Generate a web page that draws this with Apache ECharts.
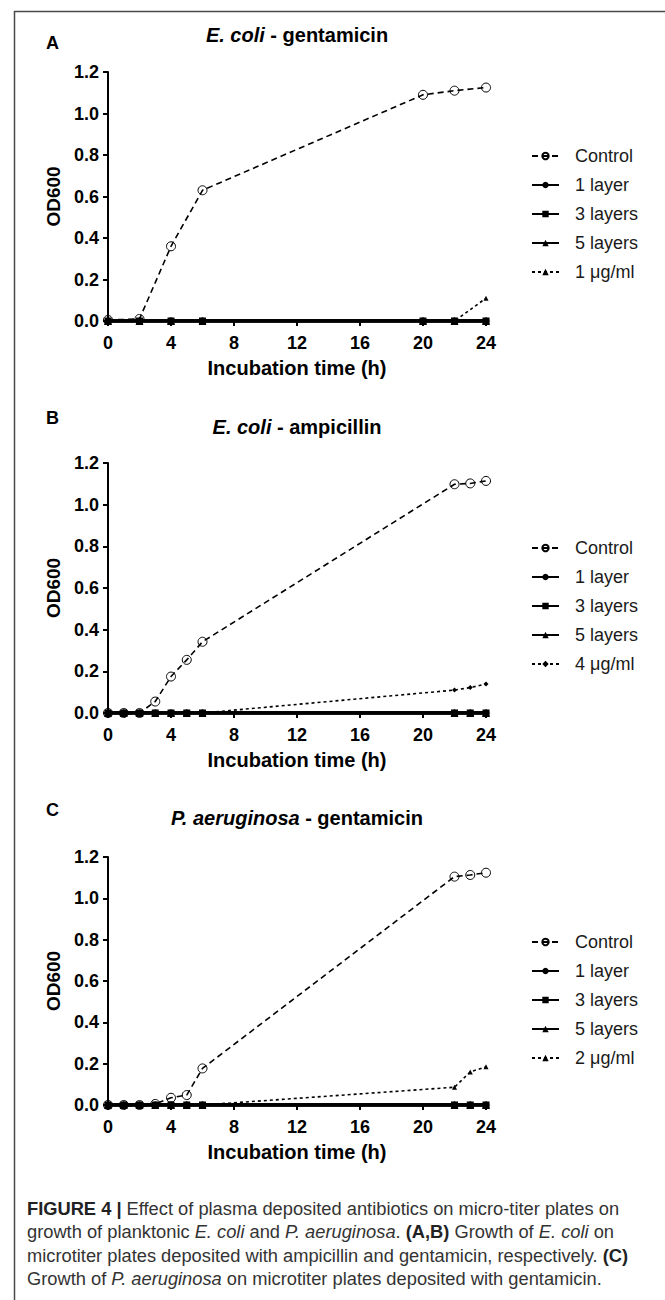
<!DOCTYPE html>
<html>
<head>
<meta charset="utf-8">
<script src="https://cdn.jsdelivr.net/npm/echarts@6/dist/echarts.min.js"></script>
<style>
html,body{margin:0;padding:0;background:#fff;}
#chart{width:665px;height:1300px;}
</style>
</head>
<body>
<div id="chart"></div>
<script>
// ---- Data ----
const panelTitles = ['E. coli|gentamicin', 'E. coli|ampicillin', 'P. aeruginosa|gentamicin'];
const panelLetters = ['A', 'B', 'C'];
const seriesNames = ['Control', '1 layer', '3 layers', '5 layers'];
const doseNames = ['1 μg/ml', '4 μg/ml', '2 μg/ml'];

const xA = [0, 2, 4, 6, 20, 22, 24];
const controlA = [0.005, 0.01, 0.36, 0.63, 1.09, 1.11, 1.125];
const layer1A = [0, 0, 0, 0, 0, 0, 0];
const layer3A = [0, 0, 0, 0, 0, 0, 0];
const layer5A = [0, 0, 0, 0, 0, 0, 0];
const doseA = [0, 0, 0, 0, 0, 0, 0.11];

const xB = [0, 1, 2, 3, 4, 5, 6, 22, 23, 24];
const controlB = [0, 0, 0, 0.055, 0.175, 0.255, 0.342, 1.098, 1.102, 1.114];
const layer1B = [0, 0, 0, 0, 0, 0, 0, 0, 0, 0];
const layer3B = [0, 0, 0, 0, 0, 0, 0, 0, 0, 0];
const layer5B = [0, 0, 0, 0, 0, 0, 0, 0, 0, 0];
const doseB = [0, 0, 0, 0, 0, 0, 0, 0.11, 0.122, 0.139];

const xC = [0, 1, 2, 3, 4, 5, 6, 22, 23, 24];
const controlC = [0, 0, 0, 0.005, 0.035, 0.048, 0.177, 1.105, 1.113, 1.124];
const layer1C = [0, 0, 0, 0, 0, 0, 0, 0, 0, 0];
const layer3C = [0, 0, 0, 0, 0, 0, 0, 0, 0, 0];
const layer5C = [0, 0, 0, 0, 0, 0, 0, 0, 0, 0];
const doseC = [0, 0, 0, 0, 0, 0, 0, 0.086, 0.16, 0.185];

const xTicks = {min: 0, max: 24, interval: 4};
const yTicks = {min: 0, max: 1.2, interval: 0.2};

const captionLines = [
  '{b|FIGURE 4 |} Effect of plasma deposited antibiotics on micro-titer plates on',
  'growth of planktonic {i|E. coli} and {i|P. aeruginosa}. {b|(A,B)} Growth of {i|E. coli} on',
  'microtiter plates deposited with ampicillin and gentamicin, respectively. {b|(C)}',
  'Growth of {i|P. aeruginosa} on microtiter plates deposited with gentamicin.'
];

// ---- Layout ----
const FONT = '"Liberation Sans", Arial, Helvetica, sans-serif';
const panels = [
  {x: xA, ctrl: controlA, l1: layer1A, l3: layer3A, l5: layer5A, dose: doseA, doseSym: 'triangle',
   top: 72, height: 249, titleTop: 25, letterTop: 34, legendTop: 146},
  {x: xB, ctrl: controlB, l1: layer1B, l3: layer3B, l5: layer5B, dose: doseB, doseSym: 'diamond',
   top: 463, height: 250, titleTop: 417, letterTop: 409, legendTop: 538},
  {x: xC, ctrl: controlC, l1: layer1C, l3: layer3C, l5: layer5C, dose: doseC, doseSym: 'triangle',
   top: 857, height: 248, titleTop: 808, letterTop: 801, legendTop: 932}
];
const gridLeft = 108, gridWidth = 378;

const pairs = (xs, ys) => xs.map((x, i) => [x, ys[i]]);

const grids = [], xAxes = [], yAxes = [], series = [], titles = [], legends = [], graphics = [];

panels.forEach((p, i) => {
  grids.push({left: gridLeft, width: gridWidth, top: p.top, height: p.height});
  xAxes.push({
    gridIndex: i, type: 'value', min: xTicks.min, max: xTicks.max, interval: xTicks.interval,
    axisLine: {show: true, onZero: false, lineStyle: {color: '#000', width: 2}},
    axisTick: {show: true, length: 5, lineStyle: {color: '#000', width: 2}},
    axisLabel: {color: '#000', fontSize: 18, fontWeight: 'bold', fontFamily: FONT, margin: 13},
    splitLine: {show: false},
    name: 'Incubation time (h)', nameLocation: 'middle', nameGap: 37,
    nameTextStyle: {color: '#000', fontSize: 20, fontWeight: 'bold', fontFamily: FONT}
  });
  yAxes.push({
    gridIndex: i, type: 'value', min: yTicks.min, max: yTicks.max, interval: yTicks.interval,
    axisLine: {show: true, onZero: false, lineStyle: {color: '#000', width: 2}},
    axisTick: {show: true, length: 5, lineStyle: {color: '#000', width: 2}},
    axisLabel: {color: '#000', fontSize: 18, fontWeight: 'bold', fontFamily: FONT, margin: 9,
      formatter: v => v.toFixed(1)},
    splitLine: {show: false},
    name: 'OD600', nameLocation: 'middle', nameGap: 43,
    nameTextStyle: {color: '#000', fontSize: 19, fontWeight: 'bold', fontFamily: FONT}
  });
  const parts = panelTitles[i].split('|');
  titles.push({
    text: '{i|' + parts[0] + '} - ' + parts[1],
    left: gridLeft + gridWidth / 2, top: p.titleTop, textAlign: 'center', padding: 0,
    textStyle: {color: '#000', fontSize: 20, fontWeight: 'bold', fontFamily: FONT,
      rich: {i: {fontStyle: 'italic', fontWeight: 'bold', fontSize: 20, fontFamily: FONT, color: '#000'}}}
  });
  titles.push({
    text: panelLetters[i], left: 46, top: p.letterTop, padding: 0,
    textStyle: {color: '#000', fontSize: 18, fontWeight: 'bold', fontFamily: FONT}
  });

  const common = {xAxisIndex: i, yAxisIndex: i, type: 'line', animation: false};
  series.push(Object.assign({}, common, {
    name: seriesNames[1], data: pairs(p.x, p.l1), symbol: 'circle', symbolSize: 7,
    itemStyle: {color: '#000'}, lineStyle: {color: '#000', width: 3.5}, z: 3
  }));
  series.push(Object.assign({}, common, {
    name: seriesNames[2], data: pairs(p.x, p.l3), symbol: 'rect', symbolSize: 7,
    itemStyle: {color: '#000'}, lineStyle: {color: '#000', width: 3.5}, z: 3
  }));
  series.push(Object.assign({}, common, {
    name: seriesNames[3], data: pairs(p.x, p.l5), symbol: 'triangle', symbolSize: 8,
    itemStyle: {color: '#000'}, lineStyle: {color: '#000', width: 3.5}, z: 3
  }));
  series.push(Object.assign({}, common, {
    name: doseNames[i], data: pairs(p.x, p.dose), symbol: p.doseSym, symbolSize: 5,
    itemStyle: {color: '#000'}, lineStyle: {color: '#000', width: 1.6, type: [3, 3]}, z: 4
  }));
  series.push(Object.assign({}, common, {
    name: seriesNames[0], data: pairs(p.x, p.ctrl), symbol: 'circle', symbolSize: 9,
    itemStyle: {color: 'rgba(255,255,255,0)', borderColor: '#000', borderWidth: 1},
    lineStyle: {color: '#000', width: 1.6, type: [6, 4]}, z: 5
  }));

  legends.push({
    data: [seriesNames[0], seriesNames[1], seriesNames[2], seriesNames[3], doseNames[i]],
    orient: 'vertical', left: 531, top: p.legendTop, padding: 0,
    itemWidth: 27, itemHeight: 8, itemGap: 9, selectedMode: false,
    textStyle: {color: '#1a1a1a', fontSize: 18, lineHeight: 20, fontFamily: FONT, padding: [0, 0, 0, 11]}
  });
});

// outer frame
graphics.push({
  type: 'rect', left: 12, top: 9, silent: true,
  shape: {width: 720, height: 1400},
  style: {fill: 'none', stroke: '#4a4a4a', lineWidth: 1.5}
});
// caption
const capTops = [1199, 1222.5, 1246, 1269.5];
captionLines.forEach((line, k) => {
  graphics.push({
    type: 'text', left: 27, top: capTops[k], silent: true,
    style: {
      text: line, fontSize: 18.3, fontFamily: FONT, fill: '#333',
      rich: {
        b: {fontWeight: 'bold', fontSize: 18.3, fontFamily: FONT, fill: '#222', color: '#222'},
        i: {fontStyle: 'italic', fontSize: 18.3, fontFamily: FONT, fill: '#333', color: '#333'}
      }
    }
  });
});

const chart = echarts.init(document.getElementById('chart'), null, {renderer: 'svg'});
chart.setOption({
  animation: false,
  backgroundColor: '#fff',
  title: titles,
  grid: grids,
  xAxis: xAxes,
  yAxis: yAxes,
  legend: legends,
  series: series,
  graphic: graphics
});
</script>
</body>
</html>
